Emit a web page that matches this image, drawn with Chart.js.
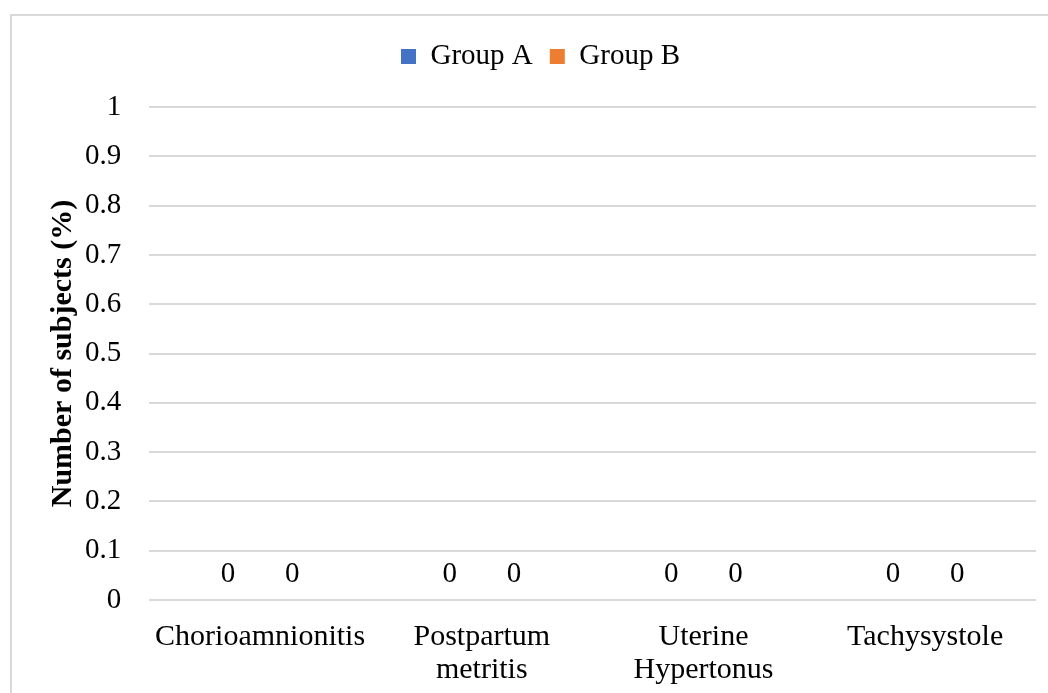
<!DOCTYPE html>
<html>
<head>
<meta charset="utf-8">
<script src="https://cdn.jsdelivr.net/npm/chart.js@4/dist/chart.umd.min.js"></script>
<style>
    html, body { margin: 0; padding: 0; background: #fff; }
    #marco {
        position: absolute; left: 10px; top: 14px;
        width: 1100px; height: 760px;
        border-top: 2px solid #d9d9d9; border-left: 2px solid #d9d9d9;
    }
    #grafico { position: absolute; left: 0; top: 0; }
</style>
</head>
<body>
<div id="marco"></div>
<canvas id="grafico" width="1048" height="693"></canvas>
<script>
// Datos
const categorias = ["Chorioamnionitis", ["Postpartum", "metritis"], ["Uterine", "Hypertonus"], "Tachysystole"];
const grupoA = [0, 0, 0, 0];
const grupoB = [0, 0, 0, 0];
const ticksY = [0, 0.1, 0.2, 0.3, 0.4, 0.5, 0.6, 0.7, 0.8, 0.9, 1];

const fuente = "'Liberation Serif', 'Times New Roman', serif";

// etiquetas de valor encima de cada barra
const etiquetasValor = {
    id: "etiquetasValor",
    afterDatasetsDraw(chart) {
        const c = chart.ctx;
        c.save();
        c.font = "29px " + fuente;
        c.fillStyle = "#000";
        c.textAlign = "center";
        c.textBaseline = "middle";
        chart.data.datasets.forEach((ds, i) => {
            chart.getDatasetMeta(i).data.forEach((bar, j) => {
                c.fillText(String(ds.data[j]), bar.x, bar.y - 26);
            });
        });
        c.restore();
    }
};

// espacio extra bajo la leyenda
const margenLeyenda = {
    id: "margenLeyenda",
    beforeInit(chart) {
        const fitOriginal = chart.legend.fit;
        chart.legend.fit = function () {
            fitOriginal.bind(chart.legend)();
            this.height += 26;
        };
    }
};

new Chart(document.getElementById("grafico"), {
    type: "bar",
    data: {
        labels: categorias,
        datasets: [
            { label: "Group A", data: grupoA, backgroundColor: "#4472c4", borderWidth: 0 },
            { label: "Group B", data: grupoB, backgroundColor: "#ed7d31", borderWidth: 0 }
        ]
    },
    options: {
        responsive: false,
        animation: false,
        layout: { padding: { left: 45, right: 12, top: 25, bottom: 6 } },
        datasets: { bar: { categoryPercentage: 0.58, barPercentage: 0.9 } },
        scales: {
            x: {
                grid: { display: false, drawTicks: true, tickLength: 21 },
                border: { display: false },
                ticks: { color: "#000", font: { family: fuente, size: 30, lineHeight: 1.1 }, padding: 0, maxRotation: 0 }
            },
            y: {
                min: 0, max: 1,
                afterBuildTicks: (axis) => { axis.ticks = ticksY.map(v => ({ value: v })); },
                grid: { color: "#d9d9d9", lineWidth: 2, drawTicks: true, tickLength: 28, tickColor: "rgba(0,0,0,0)" },
                border: { display: false },
                ticks: {
                    color: "#000", font: { family: fuente, size: 29 }, padding: 0,
                    callback: (v) => String(Math.round(v * 10) / 10)
                },
                title: {
                    display: true, text: "Number of subjects (%)", color: "#000",
                    font: { family: fuente, size: 30, weight: "bold" },
                    padding: { top: 0, bottom: 4 }
                }
            }
        },
        plugins: {
            legend: {
                display: true, position: "top",
                labels: { color: "#000", font: { family: fuente, size: 29 }, boxWidth: 15, boxHeight: 15, padding: 17 }
            },
            tooltip: { enabled: false }
        }
    },
    plugins: [etiquetasValor, margenLeyenda]
});
</script>
</body>
</html>
